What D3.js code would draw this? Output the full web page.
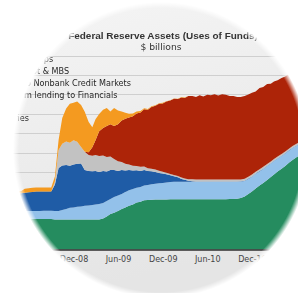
<!DOCTYPE html>
<html>
<head>
<meta charset="utf-8">
<script src="https://cdn.jsdelivr.net/npm/d3@7"></script>
<style>
  body { margin: 0; background: #fff; }
  svg { display: block; }
</style>
</head>
<body>
<svg id="chart" width="298" height="293"></svg>
<script>
// semi-monthly observations, $ billions
var dates = [
  "2008-01-01","2008-01-16","2008-02-01","2008-02-16","2008-03-01","2008-03-16","2008-04-01","2008-04-16",
  "2008-05-01","2008-05-16","2008-06-01","2008-06-16","2008-07-01","2008-07-16","2008-08-01","2008-08-16",
  "2008-09-01","2008-09-16","2008-10-01","2008-10-16","2008-11-01","2008-11-16","2008-12-01","2008-12-16",
  "2009-01-01","2009-01-16","2009-02-01","2009-02-16","2009-03-01","2009-03-16","2009-04-01","2009-04-16",
  "2009-05-01","2009-05-16","2009-06-01","2009-06-16","2009-07-01","2009-07-16","2009-08-01","2009-08-16",
  "2009-09-01","2009-09-16","2009-10-01","2009-10-16","2009-11-01","2009-11-16","2009-12-01","2009-12-16",
  "2010-01-01","2010-01-16","2010-02-01","2010-02-16","2010-03-01","2010-03-16","2010-04-01","2010-04-16",
  "2010-05-01","2010-05-16","2010-06-01","2010-06-16","2010-07-01","2010-07-16","2010-08-01","2010-08-16",
  "2010-09-01","2010-09-16","2010-10-01","2010-10-16","2010-11-01","2010-11-16","2010-12-01","2010-12-16",
  "2011-01-01","2011-01-16","2011-02-01","2011-02-16","2011-03-01","2011-03-16","2011-04-01","2011-04-16",
  "2011-05-01","2011-05-16","2011-06-01","2011-06-16","2011-07-01"
];

var treasuries = [
  710,710,695,665,620,570,540,510,485,470,470,470,470,470,470,470,470,
  465,465,465,465,465,465,465,465,465,465,465,465,465,
  480,510,550,570,595,625,650,675,695,725,740,760,765,
  770,772,773,774,775,776,776,777,777,777,777,777,777,777,777,777,777,777,777,777,
  778,780,782,785,795,820,860,895,945,990,1030,1075,1120,1160,1205,1250,1290,1340,1385,1425,1460,1500
];

var other = [
  120,120,122,122,124,124,125,125,125,126,126,126,127,127,128,128,128,130,
  130,145,160,180,185,195,200,210,215,225,230,240,
  240,240,230,240,240,235,240,240,240,230,228,228,232,240,245,250,255,262,266,
  270,270,270,270,270,270,270,270,270,270,270,270,270,270,
  270,268,266,262,255,240,232,230,225,218,215,215,210,208,202,196,194,188,184,180,178,178
];

var shortTerm = [
  75,80,90,110,140,170,200,230,260,280,290,295,300,300,300,300,300,
  410,665,690,680,650,665,665,665,555,535,520,520,495,
  495,455,450,420,380,370,330,315,285,270,245,240,215,200,180,160,145,125,105,85,70,45,30,15,10,
  5,5,5,5,5,5,5,5,5,5,5,5,5,5,5,5,5,5,5,5,5,5,5,5,5,5,5,5,5,5
];

var nonbank = [
  0,0,0,0,0,0,0,0,0,0,0,0,0,0,0,0,0,
  45,280,335,365,355,375,340,255,280,245,240,245,245,
  240,225,210,170,150,125,105,85,75,65,65,55,45,40,40,35,30,25,22,20,20,20,22,25,28,
  30,30,30,30,30,30,30,30,30,30,30,30,
  28,28,28,28,28,28,28,28,
  25,25,25,25,25,25,25,25,25,25
];

var agencyMbs = [
  0,0,0,0,0,0,0,0,0,0,0,0,0,0,0,0,0,0,0,0,0,0,0,0,0,0,
  45,130,230,385,425,480,495,510,570,640,695,725,765,815,840,885,905,955,985,1035,1055,1100,
  1135,1180,1190,1240,1245,1285,1290,1275,1305,1285,1310,1305,1320,1300,1320,1310,
  1290,1290,1275,1275,1280,1270,1265,1240,1255,1235,1235,1205,1200,1180,1175,1160,1155,1160,1140,1145,1125,1125
];

var swaps = [
  25,25,25,25,25,35,35,35,35,62,62,62,62,62,62,62,62,
  80,155,400,510,605,580,625,650,620,465,310,325,265,
  280,280,200,280,215,140,95,60,45,30,25,15,10,10,10,10,10,5,5,5,5,5,5,
  0,0,0,0,0,0,0,0,0,0,0,0,0,0,0,0,0,0,0,0,0,0,0,0,0,0,0,0,0,0,0,0
];

var seriesKeys = ["treasuries", "other", "shortTerm", "nonbank", "agencyMbs", "swaps"];
var seriesColors = {
  treasuries: "#258c5f", other: "#93c1ea", shortTerm: "#1f5ca6",
  nonbank: "#c2c2c2", agencyMbs: "#ad2408", swaps: "#f49a20"
};
// legend rows, top to bottom
var legendLabels = ["Currency Swaps", "Agency Debt & MBS", "Lending to Nonbank Credit Markets",
  "Short-term lending to Financials", "Other", "Treasuries"];
var xTickDates = ["2008-12-01", "2009-06-01", "2009-12-01", "2010-06-01", "2010-12-01"];
var yTicks = [300, 600, 900, 1200, 1500, 1800, 2100, 2400, 2700, 3000];

var W = 298, H = 293;
var parse = d3.timeParse("%Y-%m-%d");

var rows = dates.map(function(d, i) {
  return {
    date: parse(d), treasuries: treasuries[i], other: other[i], shortTerm: shortTerm[i],
    nonbank: nonbank[i], agencyMbs: agencyMbs[i], swaps: swaps[i]
  };
});

var x = d3.scaleTime()
  .domain([parse("2008-01-01"), parse("2011-07-01")])
  .range([-8.4, 303.8]);
var y = d3.scaleLinear().domain([0, 3000]).range([249.5, 55.5]);

var svg = d3.select("#chart");
var defs = svg.append("defs");

var bg = defs.append("linearGradient").attr("id", "bg")
  .attr("x1", 0).attr("y1", 0).attr("x2", 0.25).attr("y2", 1);
bg.append("stop").attr("offset", "0%").attr("stop-color", "#f5f5f5");
bg.append("stop").attr("offset", "100%").attr("stop-color", "#e5e5e5");

// soft round "lens" edge
var rg = defs.append("radialGradient").attr("id", "fade")
  .attr("gradientUnits", "userSpaceOnUse")
  .attr("cx", 161).attr("cy", 150).attr("r", 148);
rg.append("stop").attr("offset", "0.96").attr("stop-color", "#fff");
rg.append("stop").attr("offset", "1").attr("stop-color", "#000");
defs.append("mask").attr("id", "lens")
  .append("rect").attr("width", W).attr("height", H).attr("fill", "url(#fade)");

var g = svg.append("g").attr("mask", "url(#lens)");
g.append("rect").attr("width", W).attr("height", H).attr("fill", "url(#bg)");

// gridlines
g.append("g").selectAll("line").data(yTicks).join("line")
  .attr("x1", 0).attr("x2", W)
  .attr("y1", function(d) { return Math.round(y(d)) + 0.5; })
  .attr("y2", function(d) { return Math.round(y(d)) + 0.5; })
  .attr("stroke", "#cfcfcf").attr("stroke-width", 1);

// stacked areas
var stack = d3.stack().keys(seriesKeys);
var layers = stack(rows);
var area = d3.area()
  .x(function(d) { return x(d.data.date); })
  .y0(function(d) { return y(d[0]); })
  .y1(function(d) { return y(d[1]); });

g.append("g").selectAll("path").data(layers).join("path")
  .attr("d", area)
  .attr("fill", function(d) { return seriesColors[d.key]; });

// x axis
g.append("g")
  .attr("transform", "translate(0," + y(0) + ")")
  .call(d3.axisBottom(x)
    .tickValues(xTickDates.map(parse))
    .tickFormat(d3.timeFormat("%b-%y"))
    .tickSize(0).tickPadding(7))
  .call(function(a) { a.select(".domain").attr("stroke", "#2e2e2e").attr("stroke-width", 1.4); })
  .call(function(a) {
    a.selectAll("text")
      .attr("font-family", "DejaVu Sans").attr("font-size", 8).attr("fill", "#444");
  });

// title
var title = g.append("text")
  .attr("x", 163).attr("y", 38.5)
  .attr("text-anchor", "middle")
  .attr("font-family", "Liberation Sans").attr("font-weight", "bold")
  .attr("font-size", 10).attr("fill", "#333")
  .text("Federal Reserve Assets (Uses of Funds)");
var tw = title.node().getComputedTextLength();
title.attr("font-size", 10 * 190 / tw);

g.append("text")
  .attr("x", 161).attr("y", 50)
  .attr("text-anchor", "middle")
  .attr("font-family", "DejaVu Sans").attr("font-size", 9.2).attr("fill", "#333")
  .text("$ billions");

// legend labels (left part falls outside the lens)
var legend = g.append("g")
  .attr("font-family", "DejaVu Sans").attr("font-size", 8.1).attr("fill", "#262626");
var probe = legend.append("text").text(legendLabels[2]);
var x0 = 131 - probe.node().getComputedTextLength();
probe.remove();
var legendY = [62, 74, 86, 97.5, 109, 121];
legend.selectAll("text").data(legendLabels).join("text")
  .attr("x", x0)
  .attr("y", function(d, i) { return legendY[i]; })
  .text(function(d) { return d; });
</script>
</body>
</html>
